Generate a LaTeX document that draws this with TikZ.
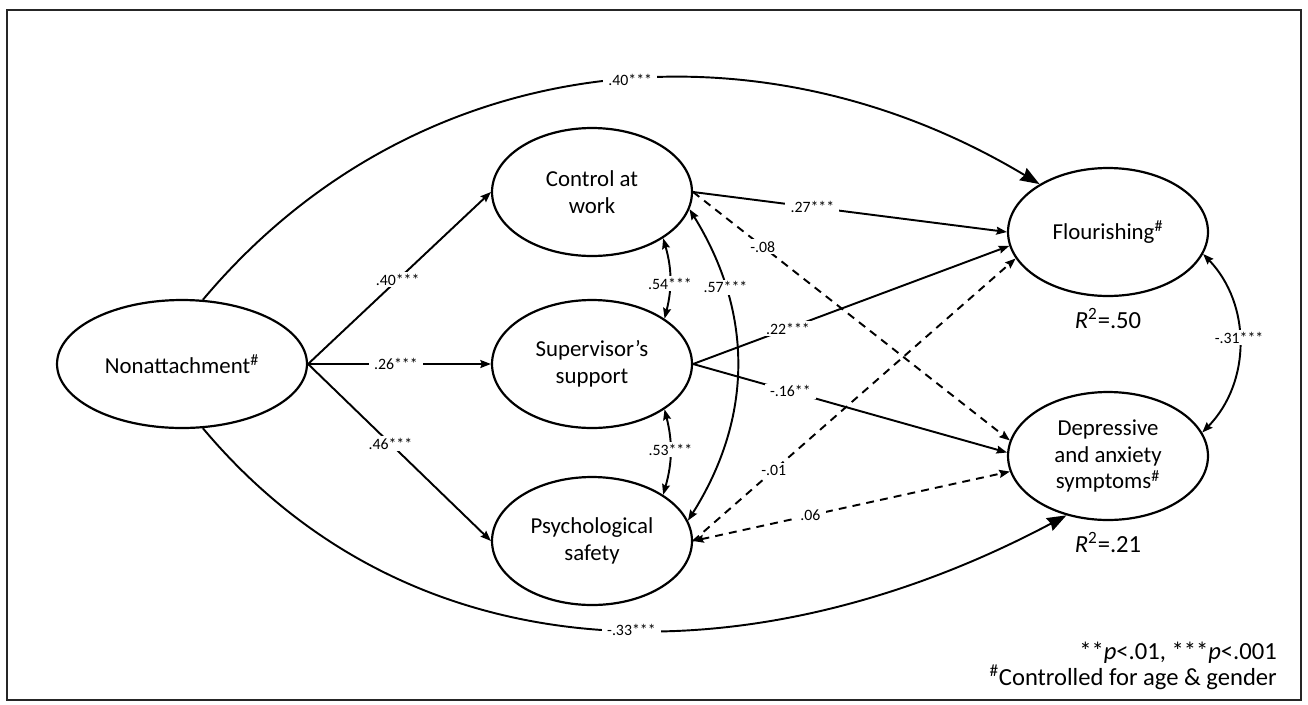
\documentclass[tikz,border=0pt]{standalone}
\usepackage{fontspec}
\setmainfont{Carlito}
\usetikzlibrary{arrows.meta, shapes.geometric, positioning}
\tikzset{
  % Set arrowhead
  >={Stealth[length=6pt, width=4.5pt, inset=0.8pt]},
  % Latent variable
  latent/.style={draw, line width=1.25pt, shape=ellipse, minimum width=4cm,
    minimum height=2.56cm, inner sep=0pt, align=center,
    font=\fontsize{13}{15.2}\selectfont},
  % Path coefficient
  coef/.style={fill=white, inner xsep=3pt, inner ysep=1pt,
    font=\fontsize{9}{10}\selectfont},
  % Paths
  eff/.style={->, line width=1.1pt},
  ns/.style={eff, dash pattern=on 4.5pt off 3.5pt},
  cov/.style={<->, line width=1.1pt},
  big/.style={line width=1.1pt, -{Stealth[length=11pt, width=8pt, inset=1pt]}},
  % Notes
  note/.style={font=\fontsize{14}{15}\selectfont},
}

\begin{document}
\begin{tikzpicture}[x=0.02cm, y=-0.02cm]
  \useasboundingbox (0,0) rectangle (1308,704);
  \draw[line width=1.3pt, black!85] (7,10) rectangle (1301,700);

  % Latent variables
  \node[latent, minimum width=5cm] (nonatt) at (182,364) {Nonattachment\textsuperscript{\#}};
  \node[latent] (control) at (592,192) {Control at\\work};
  \node[latent] (support) at (592,364) {Supervisor’s\\support};
  \node[latent] (safety) at (592,541) {Psychological\\safety};
  \node[latent] (flour) at (1108,232) {Flourishing\textsuperscript{\#}};
  \node[latent] (depress) at (1108,456) {Depressive\\and anxiety\\symptoms\textsuperscript{\#}};

  \node[note, below=0.1cm of flour] (rflour) {\textit{R}\textsuperscript{2}=.50};
  \node[note, below=0.1cm of depress] (rdepress) {\textit{R}\textsuperscript{2}=.21};

  % Nonattachment to mediators
  \draw[eff] (nonatt.east) -- node[coef, pos=0.49] {.40***} (control.west);
  \draw[eff] (nonatt.east) -- node[coef, pos=0.48] {.26***} (support.west);
  \draw[eff] (nonatt.east) -- node[coef, pos=0.45] {.46***} (safety.west);

  % Mediators to outcomes
  \draw[eff] (control.east) -- node[coef, pos=0.38] {.27***} (flour.west);
  \draw[ns] (control.east) -- node[coef, pos=0.22] {-.08} (depress.171);
  \draw[eff] (support.east) -- node[coef, pos=0.3] {.22***} (flour.188);
  \draw[eff] (support.east) -- node[coef, pos=0.31] {-.16**} (depress.178);
  \draw[ns] (safety.east) -- node[coef, pos=0.25] {-.01} (flour.196);
  \draw[ns, <->] (safety.east) -- node[coef, pos=0.37] {.06} (depress.189);

  % Covariances
  \draw[cov] (control.-33) to[bend left=15] node[coef, pos=0.57] {.54***} (support.32);
  \draw[cov] (support.-32) to[bend left=15] node[coef, pos=0.47] {.53***} (safety.33);
  \draw[cov] (control.-10) to[bend left=32] node[coef, pos=0.25] {.57***} (safety.12);
  \draw[cov] (flour.-13) to[bend left=44] node[coef, pos=0.47] {-.31***} (depress.14);

  % Direct effects
  \draw[big] (nonatt.72) to[out=50, in=149] node[coef, pos=0.54] {.40***} (flour.145);
  \draw[big] (nonatt.-72) to[out=-50, in=208] node[coef, pos=0.53] {-.33***} (depress.235);

  \node[note, anchor=east, align=right] (legend) at (1283,666)
    {**\textit{p}<.01, ***\textit{p}<.001\\\textsuperscript{\#}Controlled for age \& gender};
\end{tikzpicture}
\end{document}
